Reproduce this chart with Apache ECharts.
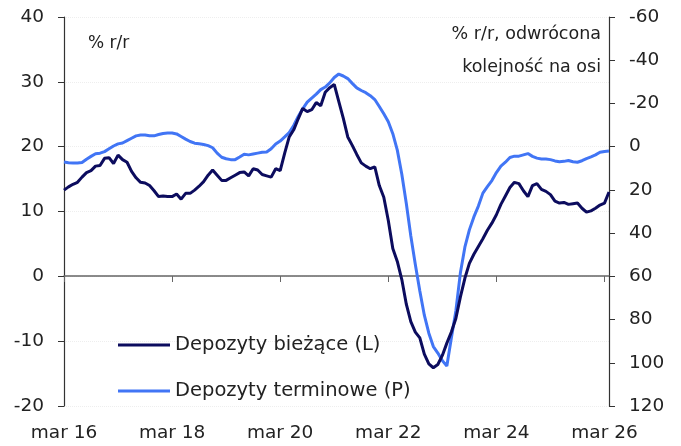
<!DOCTYPE html>
<html>
<head>
<meta charset="utf-8">
<script src="https://cdn.jsdelivr.net/npm/echarts@6/dist/echarts.min.js"></script>
<style>
  html, body { margin: 0; padding: 0; background: #fff; }
  #chart { width: 681px; height: 446px; }
</style>
</head>
<body>
<div id="chart"></div>
<script>
// monthly from mar 16
const monthNames = ["sty", "lut", "mar", "kwi", "maj", "cze", "lip", "sie", "wrz", "paź", "lis", "gru"];
const months = [];
for (let i = 0; i < 122; i++) {
  const m = (2 + i) % 12;
  const y = 16 + Math.floor((2 + i) / 12);
  months.push(monthNames[m] + " " + y);
}

// Depozyty bieżące, % r/r (lewa oś)
const biezace = [
  13.3, 13.8, 14.2, 14.5, 15.3, 16.0, 16.3, 17.0, 17.1, 18.2, 18.3, 17.4,
  18.7, 18.0, 17.6, 16.2, 15.2, 14.5, 14.4, 14.0, 13.2, 12.3, 12.4, 12.3,
  12.3, 12.7, 11.9, 12.8, 12.8, 13.3, 13.9, 14.6, 15.6, 16.4, 15.6, 14.8,
  14.8, 15.2, 15.6, 16.0, 16.1, 15.5, 16.6, 16.4, 15.7, 15.5, 15.3, 16.6,
  16.3, 19.0, 21.5, 22.6, 24.3, 25.9, 25.4, 25.7, 26.8, 26.3, 28.4, 29.1,
  29.6, 27.0, 24.4, 21.5, 20.2, 18.8, 17.5, 17.0, 16.6, 16.9, 14.0, 12.2,
  8.6, 4.3, 2.3, -0.5, -4.3, -7.0, -8.6, -9.5, -12.0, -13.5, -14.1, -13.6,
  -12.2, -10.3, -8.6, -6.5, -3.2, -0.3, 2.0, 3.4, 4.6, 5.8, 7.1, 8.2,
  9.5, 11.1, 12.4, 13.7, 14.5, 14.3, 13.2, 12.3, 14.0, 14.3, 13.4, 13.1,
  12.6, 11.6, 11.3, 11.4, 11.1, 11.2, 11.3, 10.5, 9.9, 10.1, 10.5, 11.0,
  11.3, 13.0
];

// Depozyty terminowe, % r/r (prawa oś, odwrócona)
const terminowe = [
  7.1, 7.4, 7.6, 7.6, 7.3, 5.8, 4.5, 3.3, 3.0, 2.3, 1.0, -0.3,
  -1.3, -1.7, -2.8, -3.9, -5.0, -5.4, -5.4, -5.1, -5.0, -5.6, -6.1, -6.3,
  -6.3, -5.9, -4.7, -3.5, -2.4, -1.6, -1.3, -1.0, -0.5, 0.5, 3.0, 4.9,
  5.6, 6.0, 6.0, 4.8, 3.5, 3.8, 3.4, 3.0, 2.6, 2.5, 1.0, -1.2,
  -2.6, -4.5, -6.5, -9.8, -14.0, -17.5, -20.6, -22.5, -24.3, -26.4, -27.6, -29.5,
  -32.0, -33.6, -32.7, -31.5, -29.3, -27.2, -26.0, -25.0, -23.6, -21.8, -18.6, -15.2,
  -11.5, -6.0, 1.6, 12.8, 26.3, 41.3, 54.5, 66.8, 78.0, 86.3, 92.5, 95.5,
  99.0, 101.5, 88.5, 76.0, 58.5, 46.5, 38.5, 32.5, 27.5, 21.5, 18.5, 15.7,
  12.0, 9.0, 7.2, 5.0, 4.4, 4.4, 3.8, 3.2, 4.5, 5.3, 5.7, 5.7,
  6.0, 6.6, 7.0, 6.8, 6.4, 7.0, 7.2, 6.5, 5.5, 4.7, 3.8, 2.6,
  2.2, 2.0
];

const fontName = "'DejaVu Sans', sans-serif";
const everyTwoYears = (i) => i % 24 === 0;

const chart = echarts.init(document.getElementById("chart"));

const option = {
  animation: false,
  grid: { left: 64, right: 72, top: 17, bottom: 40 },
  legend: {
    orient: "vertical",
    left: 118,
    top: 335,
    padding: 0,
    icon: "rect",
    itemWidth: 52,
    itemHeight: 3,
    itemGap: 26,
    textStyle: { fontFamily: fontName, fontSize: 19.5, color: "#222", lineHeight: 20 },
    data: ["Depozyty bieżące (L)", "Depozyty terminowe (P)"]
  },
  graphic: [
    { type: "text", left: 88, top: 35, style: { text: "% r/r", font: "17px " + fontName, fill: "#222" } },
    { type: "text", right: 80, top: 25, style: { text: "% r/r, odwrócona", font: "17.5px " + fontName, fill: "#222", textAlign: "right" } },
    { type: "text", right: 80, top: 58, style: { text: "kolejność na osi", font: "17.5px " + fontName, fill: "#222", textAlign: "right" } }
  ],
  xAxis: [
    {
      type: "category",
      data: months,
      boundaryGap: false,
      axisLine: { show: false },
      axisTick: { show: false },
      axisLabel: {
        interval: 0,
        formatter: (v, i) => (everyTwoYears(i) ? v : ""),
        fontFamily: fontName,
        fontSize: 18.5,
        color: "#222",
        margin: 18
      }
    },
    {
      // oś na poziomie zera
      type: "category",
      data: months,
      boundaryGap: false,
      position: "bottom",
      offset: -130,
      axisLine: { show: true, onZero: false, lineStyle: { color: "#666", width: 1.5 } },
      axisTick: { show: true, interval: (i) => everyTwoYears(i), length: 6, lineStyle: { color: "#666" } },
      axisLabel: { show: false }
    }
  ],
  yAxis: [
    {
      type: "value",
      min: -20,
      max: 40,
      interval: 10,
      axisLine: { show: true, lineStyle: { color: "#333", width: 1.2 } },
      axisTick: { show: true, length: 6, lineStyle: { color: "#333" } },
      axisLabel: { fontFamily: fontName, fontSize: 18.5, color: "#222", margin: 20 },
      splitLine: { show: true, lineStyle: { color: "#eee", type: "dotted" } }
    },
    {
      type: "value",
      inverse: true,
      min: -60,
      max: 120,
      interval: 20,
      axisLine: { show: true, lineStyle: { color: "#333", width: 1.2 } },
      axisTick: { show: true, length: 6, lineStyle: { color: "#333" } },
      axisLabel: { fontFamily: fontName, fontSize: 18.5, color: "#222", margin: 20 },
      splitLine: { show: false }
    }
  ],
  series: [
    {
      name: "Depozyty bieżące (L)",
      type: "line",
      xAxisIndex: 0,
      yAxisIndex: 0,
      data: biezace,
      symbol: "none",
      z: 3,
      lineStyle: { color: "#0c0c5e", width: 3 },
      itemStyle: { color: "#0c0c5e" }
    },
    {
      name: "Depozyty terminowe (P)",
      type: "line",
      xAxisIndex: 0,
      yAxisIndex: 1,
      data: terminowe,
      symbol: "none",
      z: 2,
      lineStyle: { color: "#4175f5", width: 3 },
      itemStyle: { color: "#4175f5" }
    }
  ]
};

chart.setOption(option);
window.addEventListener("resize", () => chart.resize());
</script>
</body>
</html>
